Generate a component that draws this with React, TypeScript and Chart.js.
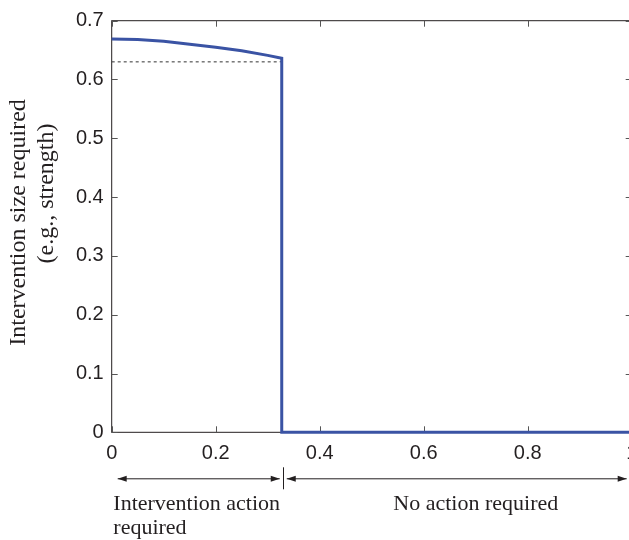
import React, { useEffect, useRef } from "react";
import { Chart, registerables } from "chart.js";

Chart.register(...registerables);

// ---- data ----
const curveX = [0, 0.05, 0.1, 0.15, 0.2, 0.25, 0.3, 0.327, 0.327, 1.0];
const curveY = [0.669, 0.668, 0.665, 0.66, 0.655, 0.649, 0.641, 0.636, 0, 0];
const thresholdX = [0, 0.327];
const thresholdY = [0.63, 0.63];
const xTickValues = [0, 0.2, 0.4, 0.6, 0.8, 1];
const yTickValues = [0, 0.1, 0.2, 0.3, 0.4, 0.5, 0.6, 0.7];
const yTitleLines = ["Intervention size required", "(e.g., strength)"];
const leftRegionLabel = ["Intervention action", "required"];
const rightRegionLabel = "No action required";
const switchPoint = 0.327;

const BLUE = "#3a53a4";
const INK = "#231f20";
const SANS = "'Liberation Sans', Arial, Helvetica, sans-serif";
const SERIF = "'Liberation Serif', 'Times New Roman', serif";

const fmt = (v: number) => String(Number(v.toFixed(1)));

const framePlugin = {
  id: "frame",
  beforeDatasetsDraw(chart: any) {
    const { ctx, chartArea: a, scales } = chart;
    const xs = scales.x;
    const ys = scales.y;
    ctx.save();
    ctx.strokeStyle = INK;
    ctx.lineWidth = 1;
    ctx.strokeRect(a.left, a.top, a.right - a.left, a.bottom - a.top);
    ctx.strokeStyle = "#555";
    const tl = 6;
    ctx.beginPath();
    xTickValues.forEach((v) => {
      const px = Math.round(xs.getPixelForValue(v)) + 0.5;
      ctx.moveTo(px, a.bottom);
      ctx.lineTo(px, a.bottom - tl);
      ctx.moveTo(px, a.top);
      ctx.lineTo(px, a.top + tl);
    });
    yTickValues.forEach((v) => {
      const py = Math.round(ys.getPixelForValue(v)) + 0.5;
      ctx.moveTo(a.left, py);
      ctx.lineTo(a.left + tl, py);
      ctx.moveTo(a.right, py);
      ctx.lineTo(a.right - tl, py);
    });
    ctx.stroke();
    ctx.restore();
  },
  afterDraw(chart: any) {
    const { ctx, chartArea: a, scales } = chart;
    const xs = scales.x;
    const ys = scales.y;
    ctx.save();
    // y title
    ctx.fillStyle = INK;
    ctx.font = `24px ${SERIF}`;
    ctx.textAlign = "center";
    ctx.textBaseline = "middle";
    const cy = (ys.getPixelForValue(0) + ys.getPixelForValue(0.7)) / 2;
    ctx.save();
    ctx.translate(19, cy - 4);
    ctx.rotate(-Math.PI / 2);
    ctx.fillText(yTitleLines[0], 0, 0);
    ctx.restore();
    ctx.save();
    ctx.translate(47, cy - 33);
    ctx.rotate(-Math.PI / 2);
    ctx.fillText(yTitleLines[1], 0, 0);
    ctx.restore();

    // region arrows
    const ay = a.bottom + 46;
    const x0 = xs.getPixelForValue(0);
    const xsw = xs.getPixelForValue(switchPoint);
    const x1 = xs.getPixelForValue(1);
    ctx.strokeStyle = INK;
    ctx.fillStyle = INK;
    ctx.lineWidth = 1;
    const arrow = (from: number, to: number) => {
      ctx.beginPath();
      ctx.moveTo(from, ay + 0.5);
      ctx.lineTo(to, ay + 0.5);
      ctx.stroke();
      const head = (tip: number, dir: number) => {
        ctx.beginPath();
        ctx.moveTo(tip, ay + 0.5);
        ctx.lineTo(tip - dir * 9, ay + 0.5 - 3);
        ctx.lineTo(tip - dir * 9, ay + 0.5 + 3);
        ctx.closePath();
        ctx.fill();
      };
      head(from, -1);
      head(to, 1);
    };
    arrow(x0 + 6, xsw - 2);
    arrow(xsw + 5, x1 - 5);
    ctx.beginPath();
    ctx.moveTo(Math.round(xsw + 1.6) + 0.5, ay - 11);
    ctx.lineTo(Math.round(xsw + 1.6) + 0.5, ay + 11);
    ctx.stroke();

    // region labels
    ctx.font = `22px ${SERIF}`;
    ctx.textAlign = "left";
    ctx.textBaseline = "alphabetic";
    ctx.fillText(leftRegionLabel[0], x0 + 1.6, a.bottom + 78);
    ctx.fillText(leftRegionLabel[1], x0 + 1.6, a.bottom + 102);
    ctx.fillText(rightRegionLabel, 393.3, a.bottom + 78);
    ctx.restore();
  },
};

export default function App() {
  const ref = useRef<HTMLCanvasElement | null>(null);
  useEffect(() => {
    if (!ref.current) return;
    const chart = new Chart(ref.current, {
      type: "line",
      data: {
        datasets: [
          {
            data: curveX.map((x, i) => ({ x, y: curveY[i] })),
            borderColor: BLUE,
            borderWidth: 3,
            pointRadius: 0,
            tension: 0,
            clip: false as any,
            order: 1,
          },
          {
            data: thresholdX.map((x, i) => ({ x, y: thresholdY[i] })),
            borderColor: "#333",
            borderWidth: 1,
            borderDash: [3, 3],
            pointRadius: 0,
            order: 2,
          },
        ],
      },
      options: {
        animation: false,
        responsive: false,
        devicePixelRatio: 1,
        layout: { padding: { left: 0, top: 20.7, right: 28.3, bottom: 67.7 } },
        plugins: {
          legend: { display: false },
          tooltip: { enabled: false },
          title: { display: false },
        },
        scales: {
          x: {
            type: "linear",
            min: 0,
            max: 1,
            afterBuildTicks: (s: any) => {
              s.ticks = xTickValues.map((v) => ({ value: v }));
            },
            grid: { display: false, drawTicks: false },
            border: { display: false },
            ticks: {
              padding: 9,
              color: INK,
              font: { family: SANS, size: 20 },
              callback: (v: any) => fmt(Number(v)),
              maxRotation: 0,
              autoSkip: false,
            },
            afterFit: (s: any) => {
              s.height = 40;
            },
          },
          y: {
            type: "linear",
            min: 0,
            max: 0.7,
            afterBuildTicks: (s: any) => {
              s.ticks = yTickValues.map((v) => ({ value: v }));
            },
            grid: { display: false, drawTicks: false },
            border: { display: false },
            ticks: {
              padding: 8,
              color: INK,
              font: { family: SANS, size: 20 },
              callback: (v: any) => fmt(Number(v)),
              autoSkip: false,
            },
            afterFit: (s: any) => {
              s.width = 111.7;
            },
          },
        },
      },
      plugins: [framePlugin],
    });
    return () => chart.destroy();
  }, []);
  return (
    <div
      style={{
        position: "absolute",
        left: 0,
        top: 0,
        width: 629,
        height: 540,
        overflow: "hidden",
        background: "#fff",
      }}
    >
      <canvas ref={ref} width={660} height={540} style={{ display: "block" }} />
    </div>
  );
}
